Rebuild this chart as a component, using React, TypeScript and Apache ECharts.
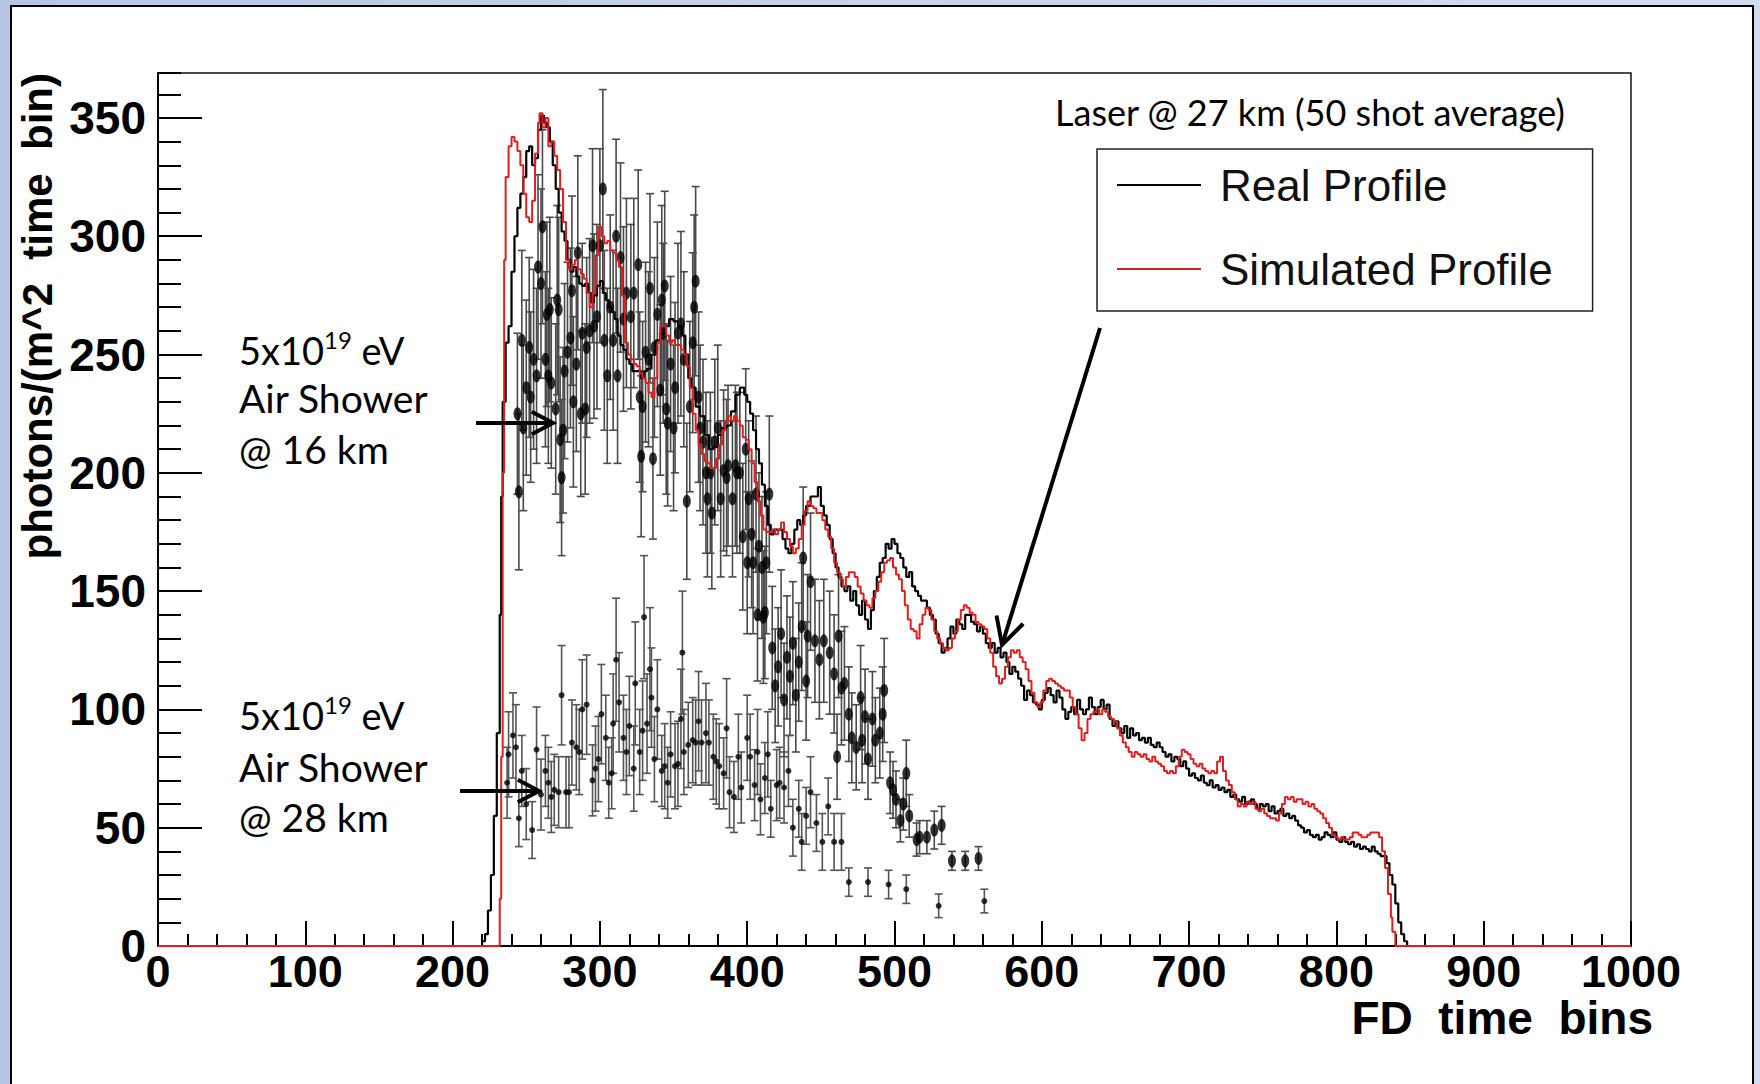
import React, { useEffect, useRef } from "react";
import * as echarts from "echarts";

// ---------- data ----------
const xTickInterval = 100;
const yTickInterval = 50;
const yMax = 369;

// Real (measured) laser profile: [time bin, photons]
const realProfile: [number, number][] = [
  [0, 0], [218, 0], [220, 2], [222, 5], [224, 15], [226, 30], [228, 55], [230, 90], [232, 140], [233, 190], [234, 230],
  [236, 255], [238, 262], [240, 285], [242, 300], [244, 312], [246, 318], [248, 325], [250, 336], [252, 338], [254, 330],
  [256, 333], [258, 345], [260, 351], [262, 348], [264, 346], [266, 340], [268, 330], [270, 320], [272, 310], [274, 302],
  [276, 298], [278, 290], [280, 285], [282, 287], [284, 283], [286, 280], [288, 279], [290, 280], [292, 276], [294, 272],
  [296, 275], [298, 279], [300, 281], [302, 276], [304, 273], [306, 270], [308, 268], [310, 265], [312, 258], [314, 254],
  [316, 252], [318, 248], [320, 246], [322, 243], [325, 243], [328, 240], [330, 243], [332, 244], [335, 250], [338, 256],
  [341, 259], [344, 262], [347, 265], [350, 264], [353, 262], [356, 258], [358, 250], [360, 240], [362, 236], [365, 228],
  [368, 224], [371, 216], [374, 210], [377, 211], [380, 216], [383, 219], [386, 220], [389, 226], [392, 233], [395, 236],
  [398, 233], [400, 230], [402, 225], [404, 218], [406, 210], [408, 204], [410, 195], [412, 186], [414, 178], [416, 174],
  [418, 176], [420, 176], [422, 176], [424, 172], [426, 168], [428, 166], [430, 170], [432, 176], [434, 180], [436, 178],
  [438, 182], [440, 186], [443, 190], [446, 190], [448, 194], [450, 186], [452, 182], [454, 178], [456, 172], [458, 166],
  [460, 160], [462, 156], [464, 152], [466, 150], [468, 152], [470, 146], [472, 150], [474, 144], [476, 140], [478, 146],
  [480, 138], [482, 134], [484, 142], [486, 150], [488, 156], [490, 162], [492, 164], [494, 170], [496, 168], [498, 172],
  [500, 170], [502, 166], [504, 164], [506, 160], [508, 156], [510, 158], [512, 152], [514, 150], [516, 148], [518, 146],
  [520, 146], [522, 143], [524, 140], [526, 138], [528, 132], [530, 128], [532, 124], [534, 126], [536, 130], [538, 135],
  [540, 132], [542, 138], [544, 136], [546, 134], [548, 140], [550, 140], [552, 137], [554, 136], [556, 133], [558, 135],
  [560, 132], [562, 128], [564, 126], [566, 128], [568, 124], [570, 126], [572, 122], [574, 124], [576, 120], [578, 115],
  [580, 118], [582, 116], [584, 113], [586, 110], [588, 104], [590, 108], [592, 106], [594, 103], [596, 102], [598, 100],
  [600, 104], [602, 107], [604, 109], [606, 106], [608, 103], [610, 108], [612, 105], [614, 100], [616, 96], [618, 99],
  [620, 101], [622, 98], [624, 104], [626, 100], [628, 98], [630, 100], [632, 105], [634, 101], [636, 98], [638, 101],
  [640, 104], [642, 100], [644, 102], [646, 96], [648, 93], [650, 95], [652, 92], [654, 90], [656, 93], [658, 88],
  [660, 92], [662, 89], [664, 90], [666, 87], [668, 88], [670, 86], [672, 88], [674, 85], [676, 84], [678, 86],
  [680, 84], [682, 82], [684, 80], [686, 81], [688, 78], [690, 80], [692, 79], [694, 76], [696, 78], [698, 75],
  [700, 72], [702, 73], [704, 71], [706, 70], [708, 72], [710, 69], [712, 68], [714, 70], [716, 67], [718, 68],
  [720, 66], [722, 67], [724, 65], [726, 66], [728, 63], [730, 64], [732, 62], [734, 61], [736, 63], [738, 60],
  [740, 61], [742, 62], [744, 60], [746, 58], [748, 60], [750, 59], [752, 60], [754, 57], [756, 59], [758, 56],
  [760, 57], [762, 58], [764, 55], [766, 56], [768, 54], [770, 55], [772, 53], [774, 51], [776, 50], [778, 48],
  [780, 49], [782, 47], [784, 46], [786, 47], [788, 45], [790, 46], [792, 48], [794, 47], [796, 46], [798, 48],
  [800, 45], [802, 44], [804, 46], [806, 44], [808, 43], [810, 44], [812, 42], [814, 43], [816, 41], [818, 42],
  [820, 41], [822, 40], [824, 42], [826, 40], [828, 39], [830, 38], [832, 38], [834, 35], [836, 30], [838, 26],
  [840, 18], [842, 10], [844, 5], [846, 2], [848, 0], [1000, 0],
];

// Simulated laser profile: [time bin, photons]
const simulatedProfile: [number, number][] = [
  [0, 0], [231, 0], [232, 20], [233, 80], [234, 200], [235, 290], [236, 325], [238, 338], [240, 342], [242, 340],
  [244, 336], [246, 330], [248, 318], [250, 308], [252, 306], [254, 315], [256, 335], [258, 348], [259, 352], [261, 346],
  [263, 350], [265, 338], [267, 340], [269, 334], [271, 328], [273, 320], [275, 306], [277, 290], [279, 286], [281, 288],
  [283, 290], [285, 286], [287, 284], [289, 282], [291, 276], [293, 270], [295, 276], [297, 292], [299, 304], [301, 300],
  [303, 297], [305, 298], [307, 294], [309, 293], [311, 290], [313, 287], [315, 275], [317, 255], [319, 250], [321, 248],
  [323, 246], [325, 245], [327, 242], [329, 240], [331, 238], [333, 234], [335, 232], [337, 240], [339, 255], [341, 262],
  [343, 262], [345, 258], [347, 255], [349, 256], [351, 254], [353, 254], [355, 252], [357, 250], [359, 245], [361, 236],
  [363, 225], [365, 218], [367, 212], [369, 208], [371, 205], [373, 204], [375, 202], [377, 202], [379, 206], [381, 212],
  [383, 218], [385, 222], [387, 224], [389, 222], [391, 224], [393, 222], [395, 220], [397, 215], [399, 214], [401, 210],
  [403, 204], [405, 196], [407, 188], [409, 182], [411, 176], [413, 175], [415, 175], [417, 176], [419, 174], [421, 176],
  [423, 179], [425, 175], [427, 172], [429, 169], [431, 166], [433, 168], [435, 172], [437, 178], [439, 184], [441, 188],
  [443, 186], [445, 185], [447, 183], [449, 183], [451, 180], [453, 176], [455, 173], [457, 168], [459, 162], [461, 158],
  [463, 155], [465, 152], [467, 156], [469, 158], [471, 158], [473, 156], [475, 152], [477, 149], [479, 146], [481, 144],
  [483, 143], [485, 147], [487, 150], [489, 154], [491, 158], [493, 162], [495, 163], [497, 164], [499, 160], [501, 157],
  [503, 155], [505, 150], [507, 144], [509, 138], [511, 134], [513, 133], [515, 130], [517, 136], [519, 140], [521, 143],
  [523, 142], [525, 138], [527, 133], [529, 130], [531, 128], [533, 126], [535, 125], [537, 126], [539, 130], [541, 133],
  [543, 138], [545, 142], [547, 144], [549, 143], [551, 141], [553, 140], [555, 137], [557, 136], [559, 135], [561, 134],
  [563, 130], [565, 124], [567, 118], [569, 114], [571, 111], [573, 113], [575, 118], [577, 122], [579, 125], [581, 124],
  [583, 125], [585, 122], [587, 120], [589, 117], [591, 112], [593, 107], [595, 103], [597, 101], [599, 103], [601, 108],
  [603, 112], [605, 113], [607, 112], [609, 111], [611, 110], [613, 109], [615, 108], [617, 108], [619, 105], [621, 101],
  [623, 98], [625, 92], [627, 87], [629, 90], [631, 96], [633, 98], [635, 99], [637, 100], [639, 98], [641, 100],
  [643, 99], [645, 97], [647, 96], [649, 95], [651, 92], [653, 89], [655, 86], [657, 84], [659, 82], [661, 80],
  [663, 82], [665, 81], [667, 80], [669, 81], [671, 79], [673, 78], [675, 80], [677, 78], [679, 77], [681, 76],
  [683, 74], [685, 73], [687, 74], [689, 73], [691, 76], [693, 80], [695, 83], [697, 82], [699, 81], [701, 79],
  [703, 77], [705, 76], [707, 77], [709, 75], [711, 74], [713, 73], [715, 74], [717, 73], [719, 78], [721, 80],
  [723, 74], [725, 70], [727, 68], [729, 65], [731, 62], [733, 59], [735, 60], [737, 59], [739, 61], [741, 60],
  [743, 61], [745, 58], [747, 57], [749, 58], [751, 56], [753, 55], [755, 54], [757, 54], [759, 53], [761, 56],
  [763, 60], [765, 63], [767, 62], [769, 63], [771, 61], [773, 62], [775, 62], [777, 60], [779, 61], [781, 59],
  [783, 60], [785, 58], [787, 57], [789, 56], [791, 54], [793, 52], [795, 50], [797, 47], [799, 46], [801, 45],
  [803, 46], [805, 45], [807, 45], [809, 46], [811, 48], [813, 48], [815, 47], [817, 46], [819, 46], [821, 47],
  [823, 48], [825, 48], [827, 48], [829, 46], [831, 40], [833, 33], [835, 22], [837, 12], [838, 6], [840, 0], [1000, 0],
];

// 5x10^19 eV air shower @ 16 km: [time bin, photons, error]
const shower16km: [number, number, number][] = [
  [244, 225, 34], [245, 192, 33], [247, 256, 38], [248, 219, 35], [250, 236, 37], [252, 253, 38], [253, 232, 36], [255, 248, 38],
  [257, 241, 37], [258, 287, 39], [260, 280, 40], [261, 304, 41], [263, 248, 37], [264, 267, 39], [265, 241, 37], [266, 269, 39],
  [267, 238, 36], [270, 227, 36], [271, 273, 40], [272, 269, 39], [273, 214, 35], [274, 198, 33], [275, 218, 35], [276, 243, 37],
  [278, 251, 38], [280, 257, 38], [281, 277, 40], [282, 230, 36], [284, 246, 37], [285, 293, 41], [287, 225, 35], [288, 259, 38],
  [290, 227, 36], [291, 253, 38], [293, 260, 39], [295, 296, 41], [296, 262, 39], [298, 266, 39], [300, 296, 41], [302, 320, 42],
  [303, 256, 38], [305, 241, 37], [307, 270, 39], [309, 256, 38], [311, 300, 41], [312, 241, 37], [314, 291, 40], [316, 265, 39],
  [318, 276, 40], [321, 266, 39], [323, 276, 40], [326, 288, 40], [327, 232, 36], [328, 207, 34], [329, 228, 36], [331, 251, 38],
  [333, 248, 37], [334, 278, 40], [336, 206, 34], [337, 253, 38], [339, 267, 39], [341, 235, 36], [342, 273, 40], [343, 259, 38],
  [344, 279, 40], [345, 227, 36], [346, 221, 35], [348, 246, 37], [350, 219, 35], [351, 236, 36], [353, 259, 38], [355, 263, 39],
  [357, 248, 37], [359, 188, 33], [361, 228, 36], [363, 255, 38], [364, 270, 39], [365, 281, 40], [367, 232, 36], [368, 219, 35],
  [370, 213, 35], [372, 200, 34], [373, 189, 33], [375, 200, 34], [376, 183, 32], [378, 213, 35], [380, 219, 35], [382, 189, 33],
  [384, 201, 34], [386, 198, 33], [387, 203, 34], [390, 189, 33], [392, 203, 34], [393, 200, 34], [395, 200, 34], [397, 173, 31],
  [399, 210, 34], [400, 162, 30], [401, 189, 33], [403, 174, 31], [404, 162, 30], [406, 191, 33], [407, 140, 28], [408, 169, 31],
  [410, 160, 30], [411, 139, 28], [412, 141, 28], [413, 162, 30], [415, 191, 33], [417, 126, 26], [419, 110, 24], [421, 118, 25],
  [423, 132, 27], [425, 104, 24], [427, 122, 26], [429, 114, 25], [431, 128, 26], [433, 106, 24], [435, 120, 25], [437, 135, 27],
  [438, 164, 30], [440, 112, 25], [441, 131, 26], [443, 154, 29], [446, 129, 26], [449, 121, 25], [452, 129, 26], [456, 124, 26],
  [459, 115, 25], [461, 80, 18], [462, 131, 26], [464, 109, 24], [466, 111, 24], [469, 98, 20], [471, 88, 19], [474, 84, 18],
  [477, 105, 22], [478, 87, 18], [480, 97, 20], [482, 79, 17], [485, 96, 20], [487, 87, 18], [490, 90, 19], [492, 98, 20],
  [493, 108, 22], [497, 69, 13], [499, 66, 12], [501, 62, 12], [504, 53, 9], [506, 60, 11], [508, 73, 14], [510, 55, 9],
  [515, 45, 7], [517, 46, 7], [522, 46, 7], [527, 49, 8], [532, 51, 8], [539, 36, 4], [548, 36, 4], [557, 37, 5],
];

// 5x10^19 eV air shower @ 28 km: [time bin, photons, error]
const shower28km: [number, number, number][] = [
  [237, 69, 15], [238, 81, 18], [241, 89, 18], [243, 84, 18], [245, 54, 12], [247, 74, 15], [250, 60, 15], [254, 49, 12],
  [257, 83, 18], [260, 64, 15], [263, 74, 15], [265, 69, 15], [267, 63, 15], [269, 66, 15], [272, 65, 15], [274, 106, 21],
  [277, 65, 15], [279, 65, 15], [281, 86, 18], [284, 84, 18], [286, 82, 18], [288, 100, 21], [291, 102, 21], [295, 70, 15],
  [297, 75, 18], [299, 79, 18], [301, 98, 21], [304, 88, 18], [306, 69, 15], [308, 73, 15], [309, 94, 21], [311, 121, 26],
  [313, 103, 21], [316, 88, 18], [318, 82, 18], [320, 93, 21], [323, 75, 18], [324, 111, 26], [327, 82, 18], [329, 91, 21],
  [330, 139, 26], [332, 94, 21], [334, 117, 26], [335, 105, 21], [337, 79, 18], [339, 100, 21], [342, 74, 15], [344, 76, 18],
  [346, 69, 15], [348, 81, 18], [351, 76, 18], [353, 77, 18], [355, 96, 21], [356, 124, 26], [357, 82, 18], [360, 85, 18],
  [363, 87, 18], [365, 86, 18], [367, 95, 21], [369, 86, 18], [372, 90, 21], [374, 86, 18], [377, 80, 18], [379, 78, 18],
  [381, 76, 18], [384, 73, 15], [386, 92, 21], [388, 65, 15], [391, 63, 15], [394, 80, 18], [396, 67, 15], [400, 88, 18],
  [402, 80, 18], [405, 68, 15], [407, 82, 18], [409, 62, 15], [412, 71, 15], [414, 81, 18], [416, 58, 12], [420, 68, 15],
  [422, 69, 15], [425, 67, 15], [428, 74, 15], [431, 50, 12], [435, 58, 12], [437, 44, 12], [440, 55, 12], [443, 65, 15],
  [447, 52, 12], [451, 44, 12], [455, 59, 12], [459, 44, 12], [464, 44, 12], [469, 27, 6], [482, 27, 6], [496, 26, 6],
  [508, 24, 6], [530, 17, 5], [561, 19, 5],
];

const legendNames = ["Real Profile", "Simulated Profile"];
const titleText = "Laser @ 27 km (50 shot average)";
const xTitle = "FD  time  bins";
const yTitle = "photons/(m^2  time  bin)";

const BOLD = "Liberation Sans";
const CAL = "Lato";

function errorRenderer(color: string) {
  return (params: any, api: any) => {
    const x = api.value(0);
    const y = api.value(1);
    const e = api.value(2);
    const top = api.coord([x, y + e]);
    const bot = api.coord([x, y - e]);
    const hw = 4;
    const style = { stroke: color, lineWidth: 1.6 };
    return {
      type: "group",
      children: [
        { type: "line", shape: { x1: top[0], y1: top[1], x2: bot[0], y2: bot[1] }, style },
        { type: "line", shape: { x1: top[0] - hw, y1: top[1], x2: top[0] + hw, y2: top[1] }, style },
        { type: "line", shape: { x1: bot[0] - hw, y1: bot[1], x2: bot[0] + hw, y2: bot[1] }, style },
      ],
    };
  };
}

function arrow(x1: number, y1: number, x2: number, y2: number, head: number, w: number) {
  const dx = x2 - x1;
  const dy = y2 - y1;
  const len = Math.sqrt(dx * dx + dy * dy);
  const ux = dx / len;
  const uy = dy / len;
  const ang = Math.PI / 6.5;
  const c = Math.cos(ang);
  const s = Math.sin(ang);
  const ax = x2 - head * (ux * c - uy * s);
  const ay = y2 - head * (uy * c + ux * s);
  const bx = x2 - head * (ux * c + uy * s);
  const by = y2 - head * (uy * c - ux * s);
  return [
    { type: "line", z: 50, shape: { x1, y1, x2, y2 }, style: { stroke: "#000", lineWidth: w } },
    {
      type: "polyline",
      z: 50,
      shape: { points: [[ax, ay], [x2, y2], [bx, by]] },
      style: { stroke: "#000", lineWidth: w, fill: null, lineJoin: "miter" },
    },
  ];
}

function showerLabel(x: number, y1: number, y2: number, y3: number, km: string) {
  const rich = {
    n: { fontFamily: CAL, fontSize: 38, lineHeight: 46, fill: "#000", verticalAlign: "middle" },
    s: { fontFamily: CAL, fontSize: 24, fill: "#000", verticalAlign: "top" },
  };
  return [
    {
      type: "text",
      z: 50,
      x,
      y: y1,
      style: { text: "{n|5x10}{s|19}{n| eV}", rich, textVerticalAlign: "middle", verticalAlign: "middle" },
    },
    {
      type: "text",
      z: 50,
      x,
      y: y2,
      style: { text: "Air Shower", fontFamily: CAL, fontSize: 39, fill: "#000", verticalAlign: "middle" },
    },
    {
      type: "text",
      z: 50,
      x,
      y: y3,
      style: { text: "@ " + km, fontFamily: CAL, fontSize: 39, fill: "#000", verticalAlign: "middle" },
    },
  ];
}

export default function App() {
  const ref = useRef<HTMLDivElement>(null);

  useEffect(() => {
    if (!ref.current) return;
    const chart = echarts.init(ref.current, null, { renderer: "svg" });

    const axisLabelStyle = {
      fontFamily: BOLD,
      fontWeight: "bold" as const,
      lineHeight: 40,
      color: "#000",
      formatter: (v: number) => String(v),
    };

    const option: any = {
      animation: false,
      backgroundColor: "transparent",
      grid: {
        left: 158,
        right: 129,
        top: 73,
        bottom: 138,
        show: true,
        borderColor: "#111",
        borderWidth: 1.5,
        backgroundColor: "transparent",
        containLabel: false,
      },
      legend: {
        data: legendNames.map((n) => ({ name: n, icon: "rect" })),
        orient: "vertical",
        left: 1097,
        top: 149,
        itemWidth: 84,
        itemHeight: 2,
        itemGap: 34,
        padding: [11, 40, 17, 20],
        borderColor: "#222",
        borderWidth: 1.5,
        backgroundColor: "#fff",
        selectedMode: false,
        textStyle: { fontFamily: BOLD, fontSize: 44, color: "#111", lineHeight: 50, padding: [0, 0, 0, 14] },
      },
      xAxis: {
        type: "value",
        min: 0,
        max: 1000,
        interval: xTickInterval,
        axisLine: { show: true, onZero: false, lineStyle: { color: "#000", width: 2 } },
        axisTick: { show: true, inside: true, length: 25, lineStyle: { color: "#000", width: 2 } },
        minorTick: { show: true, splitNumber: 5, length: 12, lineStyle: { color: "#000", width: 2 } },
        axisLabel: { ...axisLabelStyle, fontSize: 45, margin: 5 },
        splitLine: { show: false },
        minorSplitLine: { show: false },
      },
      yAxis: [
        {
          type: "value",
          min: 0,
          max: yMax,
          interval: yTickInterval,
          axisLine: { show: true, onZero: false, lineStyle: { color: "#000", width: 2 } },
          axisTick: { show: true, inside: true, length: 44, lineStyle: { color: "#000", width: 2 } },
          axisLabel: { ...axisLabelStyle, fontSize: 46, margin: 12, showMaxLabel: false },
          splitLine: { show: false },
        },
        {
          type: "value",
          min: 0,
          max: yMax,
          interval: 10,
          position: "left",
          axisLine: { show: false },
          axisTick: { show: true, inside: true, length: 23, lineStyle: { color: "#000", width: 2 } },
          axisLabel: { show: false },
          splitLine: { show: false },
        },
      ],
      series: [
        {
          name: "Air Shower @ 16 km errors",
          type: "custom",
          renderItem: errorRenderer("#4a4a4a"),
          data: shower16km,
          encode: { x: 0, y: 1 },
          z: 2,
          silent: true,
        },
        {
          name: "Air Shower @ 28 km errors",
          type: "custom",
          renderItem: errorRenderer("#555"),
          data: shower28km,
          encode: { x: 0, y: 1 },
          z: 2,
          silent: true,
        },
        {
          name: "Air Shower @ 16 km",
          type: "scatter",
          data: shower16km.map((d) => [d[0], d[1]]),
          symbol: "circle",
          symbolSize: [8, 13],
          itemStyle: { color: "#000" },
          z: 3,
          silent: true,
        },
        {
          name: "Air Shower @ 28 km",
          type: "scatter",
          data: shower28km.map((d) => [d[0], d[1]]),
          symbol: "circle",
          symbolSize: 6,
          itemStyle: { color: "#000" },
          z: 3,
          silent: true,
        },
        {
          name: "Real Profile",
          type: "line",
          step: "end",
          data: realProfile,
          symbol: "none",
          lineStyle: { color: "#000", width: 2.2 },
          itemStyle: { color: "#000" },
          z: 4,
          silent: true,
        },
        {
          name: "Simulated Profile",
          type: "line",
          step: "end",
          data: simulatedProfile,
          symbol: "none",
          lineStyle: { color: "#dd1f1f", width: 2 },
          itemStyle: { color: "#dd1f1f" },
          z: 5,
          silent: true,
        },
      ],
      graphic: [
        {
          type: "rect",
          z: -100,
          silent: true,
          shape: { x: 11, y: 6, width: 1742, height: 1100 },
          style: { fill: "#fff", stroke: "#000", lineWidth: 2 },
        },
        {
          type: "text",
          z: 50,
          x: 1055,
          y: 112,
          style: { text: titleText, fontFamily: CAL, fontSize: 36, fill: "#000", verticalAlign: "middle" },
        },
        {
          type: "text",
          z: 50,
          x: 1653,
          y: 1018,
          style: {
            text: xTitle,
            fontFamily: BOLD,
            fontWeight: "bold",
            fontSize: 46,
            lineHeight: 40,
            fill: "#000",
            align: "right",
            verticalAlign: "middle",
          },
        },
        {
          type: "text",
          z: 50,
          x: 37,
          y: 73,
          rotation: Math.PI / 2,
          style: {
            text: yTitle,
            fontFamily: BOLD,
            fontWeight: "bold",
            fontSize: 42,
            fill: "#000",
            align: "right",
            verticalAlign: "middle",
          },
        },
        ...showerLabel(239, 350, 398, 449, "16 km"),
        ...showerLabel(239, 715, 767, 817, "28 km"),
        ...arrow(476, 423, 553, 423, 24, 4),
        ...arrow(460, 791, 539, 791, 24, 4),
        ...arrow(1100, 328, 1002, 645, 30, 4),
      ],
    };

    chart.setOption(option);
    return () => chart.dispose();
  }, []);

  return (
    <div
      style={{
        position: "absolute",
        left: 0,
        top: 0,
        width: 1760,
        height: 1084,
        background: "linear-gradient(to right, #b7c7e2, #d3ddef)",
        overflow: "hidden",
      }}
    >
      <div ref={ref} style={{ width: 1760, height: 1084 }} />
    </div>
  );
}
